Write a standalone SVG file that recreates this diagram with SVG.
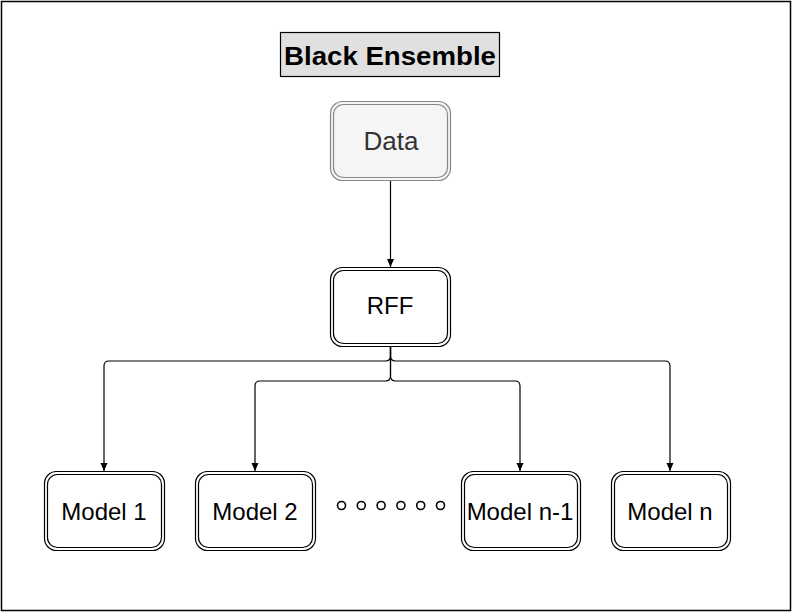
<svg xmlns="http://www.w3.org/2000/svg" width="793" height="613" viewBox="0 0 793 613">
<style>
.lbl{font-family:"Liberation Sans",Arial,sans-serif;font-size:24px;text-anchor:middle;fill:#000}
.o{fill:#fff;stroke:#000;stroke-width:1.2}
.i{fill:none;stroke:#000;stroke-width:1.2}
.c{fill:none;stroke:#000;stroke-width:1.2}
.dot{fill:none;stroke:#000;stroke-width:1.6}
</style>
<defs>
<marker id="ah" markerUnits="userSpaceOnUse" markerWidth="10" markerHeight="10" refX="8" refY="3.5" orient="auto">
<path d="M0,0 L8,3.5 L0,7 Z" fill="#000"/>
</marker>
</defs>
<rect x="1.5" y="1.5" width="789" height="609" fill="#fff" stroke="#000" stroke-width="1.5"/>
<g id="title">
<rect x="280.5" y="32.5" width="219" height="44" fill="#e0e0e0" stroke="#000" stroke-width="1.2"/>
<text x="390" y="65" class="lbl" style="font-weight:bold;font-size:25px" textLength="212" lengthAdjust="spacingAndGlyphs">Black Ensemble</text>
</g>
<g id="connectors">
<path class="c" d="M390.5 181 V267" marker-end="url(#ah)"/>
<path class="c" d="M390.5 346 V356 Q390.5 361 385.5 361 H109 Q104 361 104 366 V471" marker-end="url(#ah)"/>
<path class="c" d="M390.5 346 V356 Q390.5 361 395.5 361 H665 Q670 361 670 366 V471" marker-end="url(#ah)"/>
<path class="c" d="M390.5 346 V376 Q390.5 381 385.5 381 H260 Q255 381 255 386 V471" marker-end="url(#ah)"/>
<path class="c" d="M390.5 346 V376 Q390.5 381 395.5 381 H515 Q520 381 520 386 V471" marker-end="url(#ah)"/>
</g>
<g id="data">
<rect x="330.5" y="101.5" width="120" height="79" rx="12" fill="#f5f5f5" stroke="#888" stroke-width="1.2"/>
<rect x="333.5" y="104.5" width="114" height="73" rx="10" fill="none" stroke="#888" stroke-width="1.2"/>
<text x="391" y="150" class="lbl" style="font-size:26px;fill:#333">Data</text>
</g>
<g id="rff">
<rect x="330.5" y="267.5" width="120" height="79" rx="12" class="o"/>
<rect x="333.5" y="270.5" width="114" height="73" rx="10" class="i"/>
<text x="390" y="314" class="lbl">RFF</text>
</g>
<g id="model1">
<rect x="44.5" y="471.5" width="120" height="79" rx="12" class="o"/>
<rect x="47.5" y="474.5" width="114" height="73" rx="10" class="i"/>
<text x="104" y="520" class="lbl">Model 1</text>
</g>
<g id="model2">
<rect x="195.5" y="471.5" width="120" height="79" rx="12" class="o"/>
<rect x="198.5" y="474.5" width="114" height="73" rx="10" class="i"/>
<text x="255" y="520" class="lbl">Model 2</text>
</g>
<g id="modeln1">
<rect x="461.5" y="471.5" width="119" height="79" rx="12" class="o"/>
<rect x="464.5" y="474.5" width="113" height="73" rx="10" class="i"/>
<text x="520" y="520" class="lbl">Model n-1</text>
</g>
<g id="modeln">
<rect x="611.5" y="471.5" width="119" height="79" rx="12" class="o"/>
<rect x="614.5" y="474.5" width="113" height="73" rx="10" class="i"/>
<text x="670" y="520" class="lbl">Model n</text>
</g>
<g id="dots">
<circle cx="341.5" cy="505.5" r="4" class="dot"/>
<circle cx="361.3" cy="505.5" r="4" class="dot"/>
<circle cx="381.1" cy="505.5" r="4" class="dot"/>
<circle cx="400.9" cy="505.5" r="4" class="dot"/>
<circle cx="420.7" cy="505.5" r="4" class="dot"/>
<circle cx="440.5" cy="505.5" r="4" class="dot"/>
</g>
</svg>
